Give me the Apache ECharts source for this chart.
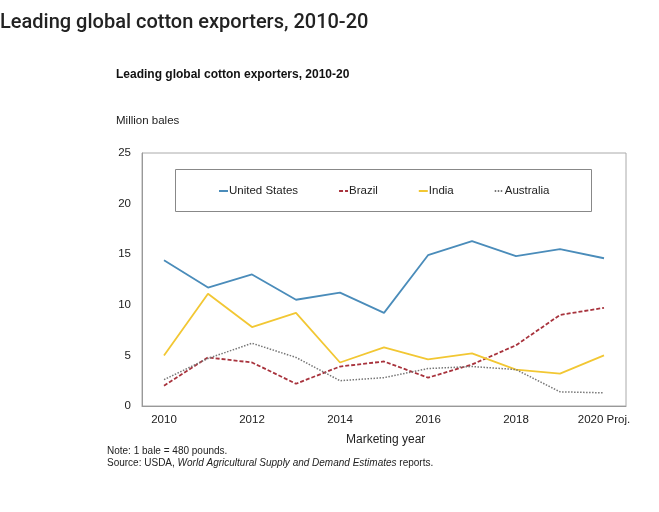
<!DOCTYPE html>
<html>
<head>
<meta charset="utf-8">
<script src="https://cdn.jsdelivr.net/npm/echarts@6/dist/echarts.min.js"></script>
<style>
  html, body { margin: 0; padding: 0; background: #fff; }
  #main { width: 659px; height: 512px; }
</style>
</head>
<body>
<div id="main"></div>
<script>
// 年份（横轴）
var years = ['2010', '2011', '2012', '2013', '2014', '2015', '2016', '2017', '2018', '2019', '2020 Proj.'];
// 各国出口量（百万包）
var usData = [14.4, 11.7, 13.0, 10.5, 11.2, 9.2, 14.9, 16.3, 14.8, 15.5, 14.6];
var brazilData = [2.0, 4.8, 4.3, 2.2, 3.9, 4.4, 2.8, 4.1, 6.0, 9.0, 9.7];
var indiaData = [5.0, 11.1, 7.8, 9.2, 4.3, 5.8, 4.6, 5.2, 3.6, 3.2, 5.0];
var australiaData = [2.6, 4.7, 6.2, 4.8, 2.5, 2.8, 3.7, 3.9, 3.6, 1.4, 1.3];
var yTicks = [0, 5, 10, 15, 20, 25];

var chart = echarts.init(document.getElementById('main'));
var font = '"Liberation Sans", Arial, sans-serif';

var option = {
    backgroundColor: '#fff',
    animation: false,
    textStyle: { fontFamily: font },
    title: [
        {
            text: 'Leading global cotton exporters, 2010-20',
            left: 0, top: 13, padding: 0,
            textStyle: { fontFamily: 'Roboto, sans-serif', fontSize: 20, fontWeight: 500, color: '#222' }
        },
        {
            text: 'Leading global cotton exporters, 2010-20',
            left: 116, top: 69, padding: 0,
            textStyle: { fontFamily: font, fontSize: 12, fontWeight: 'bold', color: '#111' }
        },
        {
            text: 'Million bales',
            left: 116, top: 115, padding: 0,
            textStyle: { fontFamily: font, fontSize: 11.5, fontWeight: 'normal', color: '#222' }
        },
        {
            text: 'Marketing year',
            left: 346, top: 434, padding: 0,
            textStyle: { fontFamily: font, fontSize: 12, fontWeight: 'normal', color: '#222' }
        },
        {
            text: 'Note: 1 bale = 480 pounds.',
            left: 107, top: 446, padding: 0,
            textStyle: { fontFamily: font, fontSize: 10, fontWeight: 'normal', color: '#222' }
        },
        {
            text: 'Source: USDA, {i|World Agricultural Supply and Demand Estimates} reports.',
            left: 107, top: 458, padding: 0,
            textStyle: {
                fontFamily: font, fontSize: 10, fontWeight: 'normal', color: '#222',
                rich: { i: { fontStyle: 'italic', fontSize: 10, fontFamily: font, color: '#222' } }
            }
        }
    ],
    graphic: [{
        type: 'rect',
        left: 175, top: 169,
        shape: { width: 416, height: 42 },
        style: { fill: '#fff', stroke: '#888', lineWidth: 1 },
        z: 5
    }],
    legend: {
        left: 218, top: 185, padding: 0,
        itemWidth: 9, itemHeight: 8,
        itemGap: 40,
        z: 10,
        itemStyle: { opacity: 0, borderWidth: 0 },
        textStyle: { fontFamily: font, fontSize: 11.5, color: '#222', padding: [0, 0, 0, -4] },
        data: ['United States', 'Brazil', 'India', 'Australia']
    },
    grid: {
        left: 142, right: 33, top: 153, bottom: 106,
        show: true, borderColor: '#aaa', borderWidth: 1
    },
    xAxis: {
        type: 'category',
        data: years,
        boundaryGap: true,
        axisLine: { lineStyle: { color: '#999' } },
        axisTick: { inside: true, length: 5, lineStyle: { color: '#999' } },
        axisLabel: { interval: 1, color: '#222', fontSize: 11.5, margin: 8 }
    },
    yAxis: {
        type: 'value',
        min: 0, max: 25, interval: 5,
        axisLine: { show: true, lineStyle: { color: '#999' } },
        axisTick: { show: false },
        splitLine: { show: false },
        axisLabel: {
            color: '#222', fontSize: 11.5, margin: 11,
            formatter: function (v) { return yTicks.indexOf(v) >= 0 ? v : ''; }
        }
    },
    series: [
        {
            name: 'United States', type: 'line', data: usData, symbol: 'none',
            lineStyle: { color: '#4a8cba', width: 1.8 }, itemStyle: { color: '#4a8cba' }
        },
        {
            name: 'Brazil', type: 'line', data: brazilData, symbol: 'none',
            lineStyle: { color: '#a8333d', width: 1.8, type: [4, 2] }, itemStyle: { color: '#a8333d' }
        },
        {
            name: 'India', type: 'line', data: indiaData, symbol: 'none',
            lineStyle: { color: '#f2c733', width: 1.8 }, itemStyle: { color: '#f2c733' }
        },
        {
            name: 'Australia', type: 'line', data: australiaData, symbol: 'none',
            lineStyle: { color: '#777', width: 1.5, type: [1.5, 1.5] }, itemStyle: { color: '#777' }
        }
    ]
};

chart.setOption(option);

window.onresize = function () {
    chart.resize();
};
</script>
</body>
</html>
